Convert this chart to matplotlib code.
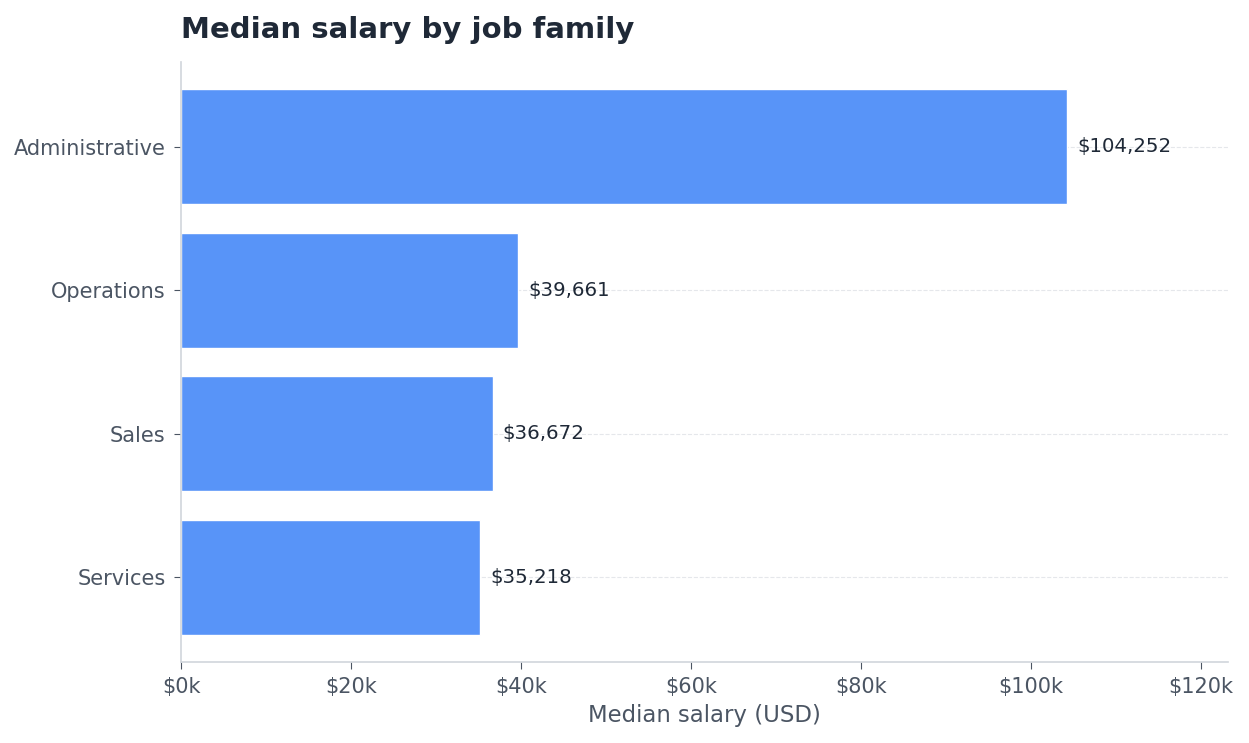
import matplotlib
matplotlib.use('Agg')
import matplotlib.pyplot as plt
from matplotlib.ticker import FuncFormatter

families = ['Administrative', 'Operations', 'Sales', 'Services']
salaries = [104252, 39661, 36672, 35218]

bar_color = '#5894f8'
text_dark = '#1f2937'
text_grey = '#4b5563'
spine_grey = '#d1d5db'

fig = plt.figure(figsize=(12.49, 7.43), dpi=100)
ax = fig.add_axes([181 / 1249, 1 - 662 / 743, (1228 - 181) / 1249, (662 - 62) / 743])

ax.barh(families, salaries, height=0.8, color=bar_color, edgecolor='white', linewidth=1, zorder=2)
ax.invert_yaxis()
ax.set_xlim(0, max(salaries) * 1.182)

for i, v in enumerate(salaries):
    ax.text(v + 1200, i, f'${v:,.0f}', va='center', ha='left', fontsize=14.2, color=text_dark, zorder=3)

ax.xaxis.set_major_formatter(FuncFormatter(lambda x, p: f'${x / 1000:.0f}k'))
ax.set_xticks(range(0, 120001, 20000))
ax.grid(axis='y', linestyle='--', color='#e5e7eb', linewidth=0.8, zorder=0)
ax.grid(axis='x', visible=False)

for s in ['top', 'right']:
    ax.spines[s].set_visible(False)
for s in ['left', 'bottom']:
    ax.spines[s].set_color(spine_grey)
    ax.spines[s].set_linewidth(1.2)

ax.tick_params(axis='both', colors=text_grey, labelsize=15, length=5)
ax.tick_params(axis='x', pad=6)
ax.tick_params(axis='y', pad=6)
ax.set_xlabel('Median salary (USD)', fontsize=16.4, color=text_grey, labelpad=5)
ax.set_title('Median salary by job family', loc='left', fontsize=21, fontweight='bold',
             color=text_dark, pad=17)

fig.savefig('out.png', dpi=100, facecolor='white')
